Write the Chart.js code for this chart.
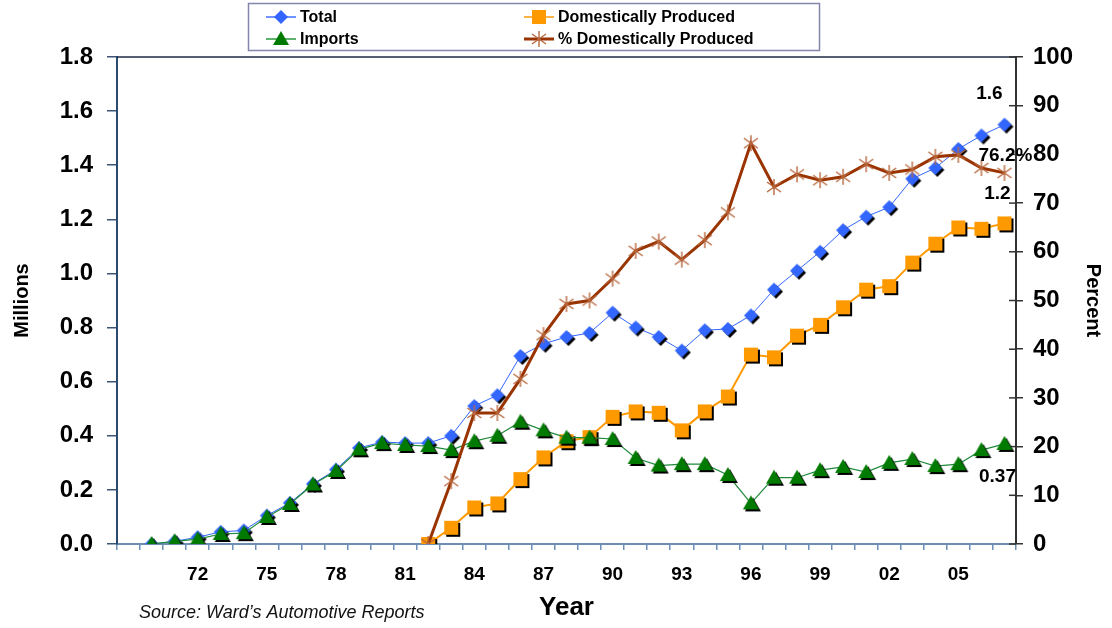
<!DOCTYPE html>
<html>
<head>
<meta charset="utf-8">
<script src="https://cdn.jsdelivr.net/npm/chart.js@4.4.1/dist/chart.umd.min.js"></script>
<style>
html, body { margin: 0; padding: 0; background: #fff; }
#wrap { width: 1112px; height: 628px; }
</style>
</head>
<body>
<div id="wrap"><canvas id="chart" width="1112" height="628"></canvas></div>
<script>
// Vehicle sales, millions (1969 slot is empty on the axis)
const years = [];
for (let y = 1969; y <= 2007; y++) years.push(String(y));
const tickLabels = ['72', '75', '78', '81', '84', '87', '90', '93', '96', '99', '02', '05'];

const total = [null, 0.00, 0.01, 0.025, 0.045, 0.05, 0.105, 0.152, 0.222, 0.275, 0.355, 0.377, 0.373, 0.373, 0.40,
    0.51, 0.55, 0.695, 0.74, 0.765, 0.78, 0.855, 0.80, 0.765, 0.715, 0.79, 0.795, 0.845, 0.94, 1.01, 1.08,
    1.16, 1.21, 1.245, 1.35, 1.39, 1.46, 1.51, 1.55];
const domestic = [null, null, null, null, null, null, null, null, null, null, null, null, null,
    0.0, 0.06, 0.135, 0.15, 0.24, 0.32, 0.38, 0.395, 0.47, 0.49, 0.485, 0.42, 0.49, 0.545, 0.70, 0.69,
    0.77, 0.81, 0.875, 0.94, 0.953, 1.04, 1.11, 1.17, 1.165, 1.185];
const imports = [null, 0.0, 0.01, 0.018, 0.037, 0.04, 0.10, 0.148, 0.22, 0.27, 0.35, 0.373, 0.366, 0.362, 0.347,
    0.38, 0.40, 0.452, 0.42, 0.393, 0.393, 0.388, 0.318, 0.29, 0.295, 0.295, 0.255, 0.15, 0.245, 0.245,
    0.273, 0.285, 0.266, 0.30, 0.314, 0.288, 0.295, 0.347, 0.37];
// percent, right axis
const pctDomestic = [null, null, null, null, null, null, null, null, null, null, null, null, null,
    0, 12.9, 26.9, 26.9, 33.9, 42.9, 49.3, 50.0, 54.5, 60.2, 62.1, 58.4, 62.4, 68.1, 82.3, 73.3,
    75.9, 74.7, 75.4, 78.0, 76.2, 76.9, 79.5, 79.9, 77.2, 76.2];

const seriesNames = ['Total', 'Domestically Produced', 'Imports', '% Domestically Produced'];
const endLabels = ['1.6', '1.2', '0.37', '76.2%'];

const FONT = "'Liberation Sans', Arial, sans-serif";

// little marker images, with the black drop shadow Excel puts on them
function makeMarker(shape, color, shadow) {
    const c = document.createElement('canvas');
    c.width = 22; c.height = 22;
    const g = c.getContext('2d');
    function paint(o, col) {
        g.fillStyle = col;
        g.strokeStyle = col;
        g.beginPath();
        if (shape === 'diamond') {
            g.moveTo(11 + o, 4 + o); g.lineTo(18 + o, 11 + o); g.lineTo(11 + o, 18 + o); g.lineTo(4 + o, 11 + o);
            g.closePath(); g.fill();
        } else if (shape === 'square') {
            g.rect(4 + o, 4 + o, 14, 14); g.fill();
        } else if (shape === 'triangle') {
            g.moveTo(11 + o, 3 + o); g.lineTo(19 + o, 17 + o); g.lineTo(3 + o, 17 + o);
            g.closePath(); g.fill();
        } else {
            g.lineWidth = 1.4;
            g.moveTo(11, 3); g.lineTo(11, 19);
            g.moveTo(4, 6); g.lineTo(18, 16);
            g.moveTo(4, 16); g.lineTo(18, 6);
            g.stroke();
        }
    }
    if (shadow && shape !== 'star') paint(2, '#000');
    paint(0, color);
    return c;
}

const styles = [
    { line: '#3366ff', legendLine: '#6f94ff', width: 1, shape: 'diamond', marker: '#3366ff' },
    { line: '#ff9900', legendLine: '#ffb347', width: 2, shape: 'square', marker: '#ff9900' },
    { line: '#1f8a3a', legendLine: '#5fb36f', width: 1.2, shape: 'triangle', marker: '#007a00' },
    { line: '#993300', legendLine: '#993300', width: 3, shape: 'star', marker: '#b8683e' }
];
const seriesData = [total, domestic, imports, pctDomestic];

const datasets = seriesData.map((d, i) => ({
    label: seriesNames[i],
    data: d,
    borderColor: styles[i].line,
    borderWidth: styles[i].width,
    pointStyle: makeMarker(styles[i].shape, styles[i].marker, true),
    pointRadius: 8,
    pointHoverRadius: 8,
    fill: false,
    tension: 0,
    yAxisID: i === 3 ? 'yPct' : 'y',
    order: [3, 2, 1, 0][i]
}));

const extrasPlugin = {
    id: 'extras',
    beforeDatasetsDraw(chart) {
        const ctx = chart.ctx;
        const a = chart.chartArea;
        ctx.save();
        // top frame of the plot area
        ctx.strokeStyle = '#1c2c44';
        ctx.lineWidth = 1.5;
        ctx.beginPath();
        ctx.moveTo(a.left, a.top); ctx.lineTo(a.right, a.top);
        ctx.stroke();
        // right axis ticks also poke inwards
        const sc = chart.scales.yPct;
        ctx.strokeStyle = '#333';
        sc.ticks.forEach(t => {
            const y = sc.getPixelForValue(t.value);
            ctx.beginPath();
            ctx.moveTo(a.right - 7, y); ctx.lineTo(a.right, y);
            ctx.stroke();
        });
        ctx.restore();
    },
    afterDraw(chart) {
        const ctx = chart.ctx;
        ctx.save();

        // end-of-series value labels
        const offsets = [[-15, -31], [-7, -30], [-7, 33], [-26, -17]];
        ctx.font = 'bold 19px ' + FONT;
        ctx.fillStyle = '#000';
        ctx.textBaseline = 'middle';
        chart.data.datasets.forEach((ds, i) => {
            const meta = chart.getDatasetMeta(i);
            const pt = meta.data[meta.data.length - 1];
            ctx.textAlign = i === 3 ? 'left' : 'center';
            ctx.fillText(endLabels[i], pt.x + offsets[i][0], pt.y + offsets[i][1]);
        });

        // legend box
        ctx.fillStyle = '#fff';
        ctx.fillRect(248, 3, 572, 48);
        ctx.strokeStyle = '#8585ad';
        ctx.lineWidth = 1.5;
        ctx.strokeRect(248.5, 3.5, 571, 47);
        const spots = [[266, 17], [524, 17], [266, 39], [524, 39]];
        ctx.font = 'bold 16px ' + FONT;
        ctx.textAlign = 'left';
        ctx.textBaseline = 'middle';
        chart.data.datasets.forEach((ds, i) => {
            const [lx, ly] = spots[i];
            ctx.strokeStyle = styles[i].legendLine;
            ctx.lineWidth = styles[i].width < 2 ? 2 : styles[i].width;
            ctx.beginPath();
            ctx.moveTo(lx, ly); ctx.lineTo(lx + 30, ly);
            ctx.stroke();
            const m = makeMarker(styles[i].shape, styles[i].marker, false);
            ctx.drawImage(m, lx + 15 - 11, ly - 11);
            ctx.fillStyle = '#000';
            ctx.fillText(ds.label, lx + 34, ly + 1);
        });

        // source note
        ctx.font = 'italic 18px ' + FONT;
        ctx.fillStyle = '#111';
        ctx.textAlign = 'left';
        ctx.fillText('Source: Ward\u2019s Automotive Reports', 139, 613);
        ctx.restore();
    }
};

new Chart(document.getElementById('chart'), {
    type: 'line',
    data: { labels: years, datasets: datasets },
    options: {
        responsive: false,
        animation: false,
        layout: { padding: { top: 57, left: 0, right: 0, bottom: 0 } },
        plugins: { legend: { display: false }, tooltip: { enabled: false } },
        scales: {
            x: {
                offset: true,
                grid: { display: true, drawOnChartArea: false, drawTicks: true, tickLength: 6, offset: true, color: '#6d8fb3', lineWidth: 1.5 },
                border: { color: '#6d8fb3', width: 2 },
                ticks: {
                    autoSkip: false,
                    maxRotation: 0,
                    padding: 13,
                    color: '#000',
                    font: { family: FONT, size: 19, weight: 'bold' },
                    callback: function(value, index) {
                        const s = years[index].slice(2);
                        return tickLabels.includes(s) ? s : '';
                    }
                },
                title: { display: true, text: 'Year', color: '#000', font: { family: FONT, size: 26, weight: 'bold' }, padding: { top: 0, bottom: 5 } },
                afterFit: s => { s.height = 84; }
            },
            y: {
                position: 'left',
                min: 0, max: 1.8,
                grid: { drawOnChartArea: false, drawTicks: true, tickLength: 10, color: '#3b5577', lineWidth: 1.5 },
                border: { color: '#2a4a70', width: 2 },
                ticks: {
                    stepSize: 0.2,
                    padding: 14,
                    color: '#000',
                    font: { family: FONT, size: 24, weight: 'bold' },
                    callback: v => v.toFixed(1)
                },
                title: { display: true, text: 'Millions', color: '#000', font: { family: FONT, size: 20, weight: 'bold' }, padding: { top: 10, bottom: 0 } },
                afterFit: s => { s.width = 117; }
            },
            yPct: {
                position: 'right',
                min: 0, max: 100,
                grid: { drawOnChartArea: false, drawTicks: true, tickLength: 7, color: '#333', lineWidth: 1.5 },
                border: { color: '#333', width: 2 },
                ticks: {
                    stepSize: 10,
                    padding: 10,
                    color: '#000',
                    font: { family: FONT, size: 24, weight: 'bold' }
                },
                title: { display: true, text: 'Percent', color: '#000', font: { family: FONT, size: 20, weight: 'bold' }, padding: { top: 7, bottom: 0 } },
                afterFit: s => { s.width = 96; }
            }
        }
    },
    plugins: [extrasPlugin]
});
</script>
</body>
</html>
